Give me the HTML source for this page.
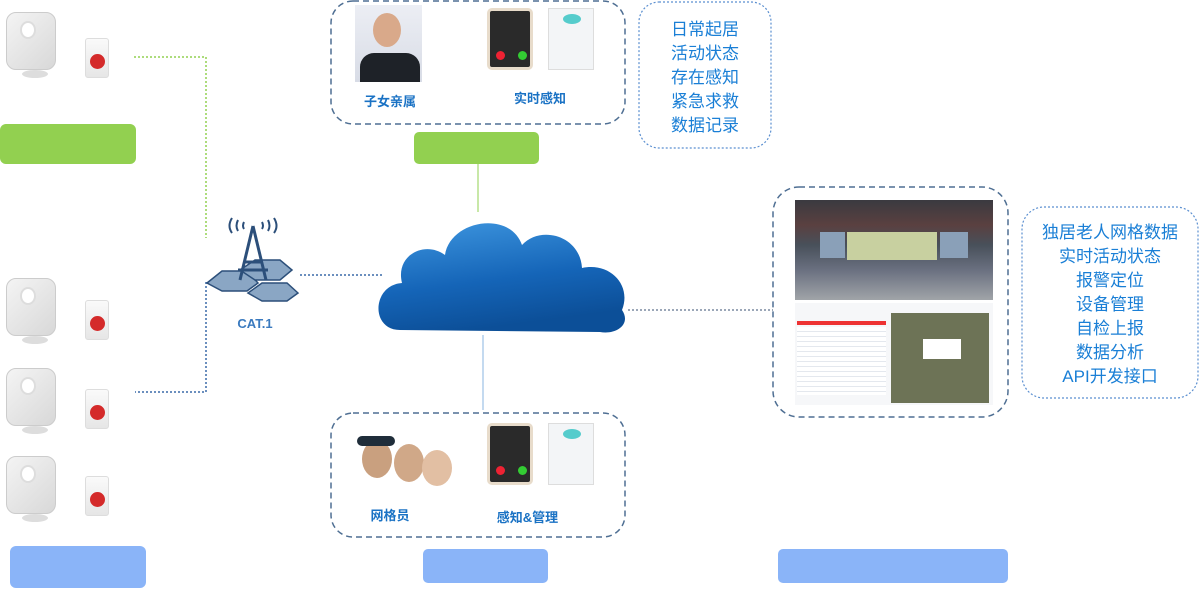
<!DOCTYPE html>
<html><head><meta charset="utf-8"><style>
*{margin:0;padding:0;box-sizing:border-box}
body{width:1200px;height:589px;background:#fff;position:relative;overflow:hidden;font-family:"Liberation Sans","Noto Sans CJK SC",sans-serif}
.a{position:absolute}
.dev{position:absolute;width:58px;height:68px}
.dev .body{position:absolute;left:0;top:0;width:50px;height:58px;border-radius:10px;background:linear-gradient(135deg,#f4f4f4,#d8d8d8);border:1px solid #ccc}
.dev .eye{position:absolute;left:13px;top:8px;width:16px;height:18px;border-radius:50%;background:#fff;border:2px solid #ddd}
.dev .base{position:absolute;left:16px;top:58px;width:26px;height:8px;border-radius:50%;background:#ddd}
.btn{position:absolute;width:24px;height:40px;background:linear-gradient(#fafafa,#e6e6e6);border:1px solid #ddd;border-radius:3px}
.btn i{position:absolute;left:4px;top:15px;width:15px;height:15px;border-radius:50%;background:#d42a2a}
.bl{color:#1a7fd6;font-size:17px;text-align:center;line-height:24px}
.lbl{color:#1a72c4;font-size:13px;font-weight:bold;text-align:center}
.phone{position:absolute;width:46px;height:62px;background:#2a2a2a;border:3px solid #e8dccb;border-radius:5px}
.phone .r{position:absolute;left:6px;top:40px;width:9px;height:9px;border-radius:50%;background:#e23}
.phone .g{position:absolute;left:28px;top:40px;width:9px;height:9px;border-radius:50%;background:#3c3}
.app{position:absolute;width:46px;height:62px;background:#f3f5f7;border:1px solid #ddd}
.app i{position:absolute;left:14px;top:5px;width:18px;height:10px;border-radius:50%;background:#5cc}
</style></head><body>

<svg class="a" style="left:0;top:0" width="1200" height="589">
<polyline points="134,57 206,57 206,238" fill="none" stroke="#92d050" stroke-width="1.5" stroke-dasharray="2,2"/>
<polyline points="206,282 206,392 135,392" fill="none" stroke="#3a6aa8" stroke-width="1.5" stroke-dasharray="2,2"/>
<line x1="300" y1="275" x2="384" y2="275" stroke="#3a6aa8" stroke-width="1.5" stroke-dasharray="2,2"/>
<line x1="478" y1="164" x2="478" y2="212" stroke="#92d050" stroke-width="1"/>
<line x1="483" y1="335" x2="483" y2="410" stroke="#8ab4e0" stroke-width="1"/>
<line x1="628" y1="310" x2="773" y2="310" stroke="#7a8aa0" stroke-width="1.5" stroke-dasharray="2,2"/>
<rect x="331" y="1" width="294" height="123" rx="22" fill="none" stroke="#4f6f93" stroke-width="1.5" stroke-dasharray="6,4"/>
<rect x="331" y="413" width="294" height="124" rx="22" fill="none" stroke="#4f6f93" stroke-width="1.5" stroke-dasharray="6,4"/>
<rect x="773" y="187" width="235" height="230" rx="26" fill="none" stroke="#4f6f93" stroke-width="1.5" stroke-dasharray="6,4"/>
<rect x="639" y="2" width="132" height="146" rx="20" fill="none" stroke="#5b8fd0" stroke-width="1.2" stroke-dasharray="2,2"/>
<rect x="1022" y="207" width="176" height="191" rx="22" fill="none" stroke="#5b8fd0" stroke-width="1.2" stroke-dasharray="2,2"/>
<defs><linearGradient id="cg" x1="0" y1="0" x2="0.3" y2="1"><stop offset="0" stop-color="#3f97e0"/><stop offset="0.6" stop-color="#1565b8"/><stop offset="1" stop-color="#0c4f98"/></linearGradient></defs>
<path d="M400,330 C370,330 372,285 402,283 C395,255 425,240 445,255 C450,220 510,210 522,245 C540,225 580,235 582,268 C610,262 632,285 622,310 C632,325 615,335 600,332 Z" fill="url(#cg)"/>
<!-- tower -->
<g fill="#8aa6c4" stroke="#2c4f7a" stroke-width="1.5">
<polygon points="207,283 222,271 247,271 258,283 247,291 222,291"/>
<polygon points="240,270 255,260 280,260 292,270 280,280 255,280"/>
<polygon points="248,293 262,283 287,283 298,293 287,301 262,301"/>
</g>
<g stroke="#2c4f7a" stroke-width="3" fill="none">
<path d="M253,226 L240,280 M253,226 L266,280 M244,262 L262,262 M238,270 L268,270"/>
</g>
<g stroke="#2c4f7a" stroke-width="2" fill="none">
<path d="M232,218 q-5,8 0,15 M238,220 q-3,6 0,11 M244,222 q-2,4 0,7 M262,222 q2,4 0,7 M268,220 q3,6 0,11 M274,218 q5,8 0,15"/>
</g>
</svg>

<!-- devices -->
<div class="dev" style="left:6px;top:12px"><div class="body"><div class="eye"></div></div><div class="base"></div></div>
<div class="btn" style="left:85px;top:38px"><i></i></div>
<div class="dev" style="left:6px;top:278px"><div class="body"><div class="eye"></div></div><div class="base"></div></div>
<div class="btn" style="left:85px;top:300px"><i></i></div>
<div class="dev" style="left:6px;top:368px"><div class="body"><div class="eye"></div></div><div class="base"></div></div>
<div class="btn" style="left:85px;top:389px"><i></i></div>
<div class="dev" style="left:6px;top:456px"><div class="body"><div class="eye"></div></div><div class="base"></div></div>
<div class="btn" style="left:85px;top:476px"><i></i></div>

<div class="a" style="left:0;top:124px;width:136px;height:40px;background:#92d050;border-radius:6px"></div>
<div class="a" style="left:10px;top:546px;width:136px;height:42px;background:#8ab4f8;border-radius:6px"></div>
<div class="a" style="left:414px;top:132px;width:125px;height:32px;background:#92d050;border-radius:5px"></div>
<div class="a" style="left:423px;top:549px;width:125px;height:34px;background:#8ab4f8;border-radius:5px"></div>
<div class="a" style="left:778px;top:549px;width:230px;height:34px;background:#8ab4f8;border-radius:5px"></div>

<div class="a lbl" style="left:225px;top:316px;width:60px;color:#3a7abf">CAT.1</div>

<!-- top box content -->
<div class="a" style="left:355px;top:5px;width:67px;height:77px;background:linear-gradient(#eceef4,#d8dce6)">
<div class="a" style="left:18px;top:8px;width:28px;height:34px;border-radius:50%;background:#d9a98a"></div>
<div class="a" style="left:5px;top:48px;width:60px;height:29px;background:#1e2228;border-radius:14px 14px 0 0"></div></div>
<div class="phone" style="left:487px;top:8px"><div class="r"></div><div class="g"></div></div>
<div class="app" style="left:548px;top:8px"><i></i></div>
<div class="a lbl" style="left:355px;top:91px;width:70px">子女亲属</div>
<div class="a lbl" style="left:505px;top:88px;width:70px">实时感知</div>

<!-- bottom box content -->
<div class="a" style="left:357px;top:432px;width:110px;height:55px">
<div class="a" style="left:5px;top:8px;width:30px;height:38px;border-radius:50%;background:#c9a07f"></div>
<div class="a" style="left:0;top:4px;width:38px;height:10px;border-radius:6px;background:#1f2d3a"></div>
<div class="a" style="left:37px;top:12px;width:30px;height:38px;border-radius:50%;background:#d0a888"></div>
<div class="a" style="left:65px;top:18px;width:30px;height:36px;border-radius:50%;background:#e2bfa3"></div>
</div>
<div class="phone" style="left:487px;top:423px"><div class="r"></div><div class="g"></div></div>
<div class="app" style="left:548px;top:423px"><i></i></div>
<div class="a lbl" style="left:355px;top:505px;width:70px">网格员</div>
<div class="a lbl" style="left:490px;top:507px;width:75px">感知&amp;管理</div>

<!-- text lists -->
<div class="a bl" style="left:639px;top:18px;width:132px">日常起居<br>活动状态<br>存在感知<br>紧急求救<br>数据记录</div>
<div class="a bl" style="left:1022px;top:221px;width:176px">独居老人网格数据<br>实时活动状态<br>报警定位<br>设备管理<br>自检上报<br>数据分析<br>API开发接口</div>

<!-- right images -->
<div class="a" style="left:795px;top:200px;width:198px;height:100px;background:linear-gradient(#3a3a40 0%,#5a4040 25%,#48505a 45%,#6a7080 70%,#a0a4a8 100%)">
<div class="a" style="left:52px;top:32px;width:90px;height:28px;background:#c8d0a0"></div>
<div class="a" style="left:25px;top:32px;width:25px;height:26px;background:#8aa0b8"></div>
<div class="a" style="left:145px;top:32px;width:28px;height:26px;background:#8aa0b8"></div></div>
<div class="a" style="left:795px;top:303px;width:198px;height:102px;background:#f6f7f9">
<div class="a" style="left:2px;top:18px;width:89px;height:4px;background:#e33"></div>
<div class="a" style="left:2px;top:24px;width:89px;height:68px;background:repeating-linear-gradient(#fff 0 4px,#e4e8ee 4px 5px)"></div>
<div class="a" style="left:96px;top:10px;width:98px;height:90px;background:#6d7356"></div>
<div class="a" style="left:128px;top:36px;width:38px;height:20px;background:#fff"></div></div>
</body></html>
